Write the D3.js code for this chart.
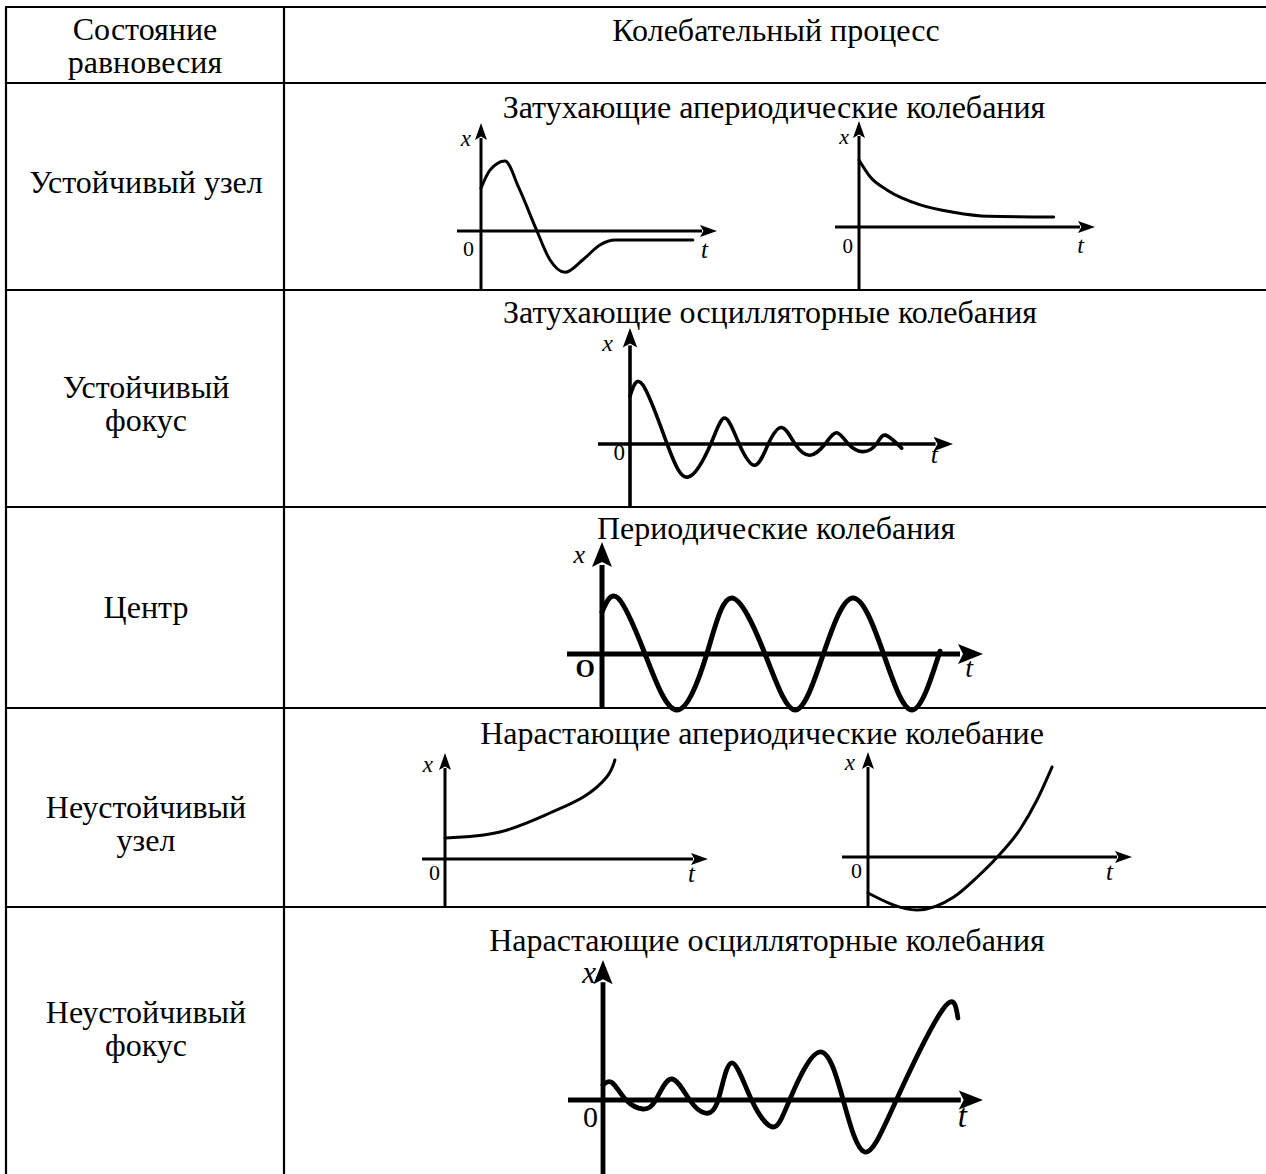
<!DOCTYPE html>
<html>
<head>
<meta charset="utf-8">
<script src="https://cdn.jsdelivr.net/npm/d3@7"></script>
<style>
  body { margin: 0; background: #fff; }
  svg { display: block; }
  text { font-family: "Liberation Serif", "Times New Roman", serif; fill: #000; }
</style>
</head>
<body>
<svg id="chart" width="1266" height="1174"></svg>
<script>
// table texts
var headLeft = ["Состояние", "равновесия"];
var headRight = "Колебательный процесс";
var rowLabels = [
  ["Устойчивый узел"],
  ["Устойчивый", "фокус"],
  ["Центр"],
  ["Неустойчивый", "узел"],
  ["Неустойчивый", "фокус"]
];
var titles = [
  "Затухающие апериодические колебания",
  "Затухающие осцилляторные колебания",
  "Периодические колебания",
  "Нарастающие апериодические колебание",
  "Нарастающие осцилляторные колебания"
];

// curves, [t, x] (t 0..10 along the axis, x relative units)
var nodeA = [[0,0.61],[0.38,0.87],[1.02,1],[1.6,0.62],[2.37,0],[2.92,-0.41],[3.56,-0.59],
             [4.32,-0.41],[5.04,-0.2],[5.68,-0.13],[8.98,-0.13]];
var nodeB = [[0,1],[0.47,0.75],[1.2,0.55],[2.6,0.33],[4.0,0.22],[5.47,0.16],[8.25,0.15]];
var focusStable = [[0,0.81],[0.4,1],[1.15,0],[1.8,-0.56],[2.5,0],[2.94,0.44],[3.38,0],
                   [3.87,-0.36],[4.28,0],[4.7,0.28],[5.11,0],[5.57,-0.19],[6.04,0],[6.4,0.19],
                   [6.76,0],[7.22,-0.13],[7.63,0],[7.9,0.15],[8.41,-0.07]];
var center = [[0,0.75],[0.42,1],[1.13,0],[1.96,-1],[2.75,0],[3.4,1],[4.28,0],[5.07,-1],
              [5.81,0],[6.59,1],[7.39,0],[8.14,-1],[8.87,0.05]];
var nodeUnA = [[0,0.21],[2.09,0.27],[3.99,0.46],[5.26,0.62],[6.15,0.82],[6.46,0.99]];
var nodeUnB = [[0,-0.36],[1.86,-0.53],[3.25,-0.4],[4.14,-0.2],[4.9,0],[5.77,0.28],[6.4,0.57],[6.97,0.9]];
var focusUn = [[0,0.15],[0.25,0.17],[0.61,0],[1.05,-0.09],[1.39,0],[1.8,0.21],[2.28,0],
               [2.68,-0.13],[3.03,0],[3.38,0.37],[3.91,0],[4.47,-0.27],[4.91,0],[5.7,0.48],
               [6.32,0],[6.89,-0.52],[7.72,0],[8.95,0.91],[9.34,0.82]];

var svg = d3.select("#chart");

// grid
var colX = 284, leftX = 6, topY = 7, rightX = 1266;
var rowY = [83, 290, 507, 708, 907];
var grid = svg.append("g").attr("stroke", "#000").attr("stroke-width", 2.2);
grid.append("line").attr("x1", leftX - 1).attr("x2", rightX).attr("y1", topY).attr("y2", topY);
grid.append("line").attr("x1", leftX).attr("x2", leftX).attr("y1", topY).attr("y2", 1174);
grid.append("line").attr("x1", colX).attr("x2", colX).attr("y1", topY).attr("y2", 1174);
grid.selectAll(".hl").data(rowY).enter().append("line")
  .attr("x1", leftX).attr("x2", rightX).attr("y1", function(d){return d;}).attr("y2", function(d){return d;});

var fs = 32, lineGap = 33;
svg.selectAll(".hd").data(headLeft).enter().append("text")
  .attr("x", 145).attr("y", function(d,i){return 40 + i*lineGap;})
  .attr("text-anchor", "middle").attr("font-size", fs).text(function(d){return d;});
svg.append("text").attr("x", 776).attr("y", 41).attr("text-anchor", "middle")
  .attr("font-size", fs).text(headRight);

var labelBase = [193, 398, 618, 818, 1023];
rowLabels.forEach(function(lines, r){
  svg.selectAll(".rl" + r).data(lines).enter().append("text")
    .attr("x", 146)
    .attr("y", function(d,i){return labelBase[r] + i*lineGap;})
    .attr("text-anchor", "middle").attr("font-size", fs).text(function(d){return d;});
});

var titleX = [774, 770, 776, 762, 767];
var titleY = [118, 323, 539, 744, 951];
titles.forEach(function(t, r){
  svg.append("text").attr("x", titleX[r]).attr("y", titleY[r]).attr("text-anchor", "middle")
    .attr("font-size", fs).text(t);
});

// panel layout; xl/zl/tl: label offsets from the axes
var panels = [
  {data: nodeA, ox: 481, oy: 231, tip: 717, left: 457, top: 123, bottom: 290, unit: 70, lw: 3, fs: 23,
   curve: d3.curveMonotoneX, xl: [-10, 23], zl: [-7, 25], tl: [-9, 27]},
  {data: nodeB, ox: 859, oy: 227, tip: 1095, left: 835, top: 121, bottom: 290, unit: 67, lw: 3, fs: 22,
   curve: d3.curveMonotoneX, xl: [-10, 23], zl: [-6, 26], tl: [-11, 26]},
  {data: focusStable, ox: 630, oy: 444, tip: 953, left: 598, top: 328, bottom: 507, unit: 59, lw: 3.6, fs: 24,
   curve: d3.curveNatural, xl: [-17, 23], zl: [-5, 16], tl: [-15, 19]},
  {data: center, ox: 602, oy: 654, tip: 983, left: 567, top: 542, bottom: 708, unit: 56, lw: 5, fs: 26, bold: true,
   curve: d3.curveNatural, xl: [-17, 21], zl: [-7, 23], tl: [-10, 23]},
  {data: nodeUnA, ox: 445, oy: 859, tip: 708, left: 422, top: 753, bottom: 907, unit: 100, lw: 3, fs: 23,
   curve: d3.curveNatural, xl: [-12, 19], zl: [-5, 21], tl: [-13, 23]},
  {data: nodeUnB, ox: 868, oy: 857, tip: 1132, left: 842, top: 752, bottom: 907, unit: 100, lw: 3, fs: 23,
   curve: d3.curveMonotoneX, xl: [-13, 18], zl: [-6, 21], tl: [-19, 23]},
  {data: focusUn, ox: 603, oy: 1100, tip: 983, left: 568, top: 960, bottom: 1174, unit: 100, lw: 4.8, fs: 31,
   curve: d3.curveNatural, xl: [-7, 23], zl: [-5, 27], tl: [-16, 27]}
];

panels.forEach(function(p){
  var x = d3.scaleLinear().domain([0, 10]).range([p.ox, p.tip]);
  var y = d3.scaleLinear().domain([-1, 1]).range([p.oy + p.unit, p.oy - p.unit]);
  var g = svg.append("g");
  var aw = p.lw * 2, al = p.lw * 4 + 5;
  var x0 = x(0), y0 = y(0);
  // axes
  g.append("line").attr("x1", p.left).attr("x2", p.tip - al + 2).attr("y1", y0).attr("y2", y0)
    .attr("stroke", "#000").attr("stroke-width", p.lw);
  g.append("line").attr("x1", x0).attr("x2", x0).attr("y1", p.bottom).attr("y2", p.top + al - 2)
    .attr("stroke", "#000").attr("stroke-width", p.lw);
  g.append("path").attr("d", "M" + p.tip + "," + y0 + "L" + (p.tip - al) + "," + (y0 - aw) +
      "L" + (p.tip - al*0.8) + "," + y0 + "L" + (p.tip - al) + "," + (y0 + aw) + "Z");
  g.append("path").attr("d", "M" + x0 + "," + p.top + "L" + (x0 - aw) + "," + (p.top + al) +
      "L" + x0 + "," + (p.top + al*0.8) + "L" + (x0 + aw) + "," + (p.top + al) + "Z");
  // curve
  var line = d3.line().x(function(d){return x(d[0]);}).y(function(d){return y(d[1]);})
    .curve(p.curve);
  g.append("path").datum(p.data).attr("d", line).attr("fill", "none")
    .attr("stroke", "#000").attr("stroke-width", p.lw).attr("stroke-linecap", "round");
  // labels
  g.append("text").attr("x", x0 + p.xl[0]).attr("y", p.top + p.xl[1]).attr("text-anchor", "end")
    .attr("font-size", p.fs).attr("font-style", "italic").text("x");
  g.append("text").attr("x", x0 + p.zl[0]).attr("y", y0 + p.zl[1]).attr("text-anchor", "end")
    .attr("font-size", p.fs - 1).attr("font-weight", p.bold ? "bold" : "normal").text(p.bold ? "O" : "0");
  g.append("text").attr("x", p.tip + p.tl[0]).attr("y", y0 + p.tl[1]).attr("text-anchor", "end")
    .attr("font-size", p.fs + 2).attr("font-style", "italic").text("t");
});
</script>
</body>
</html>
